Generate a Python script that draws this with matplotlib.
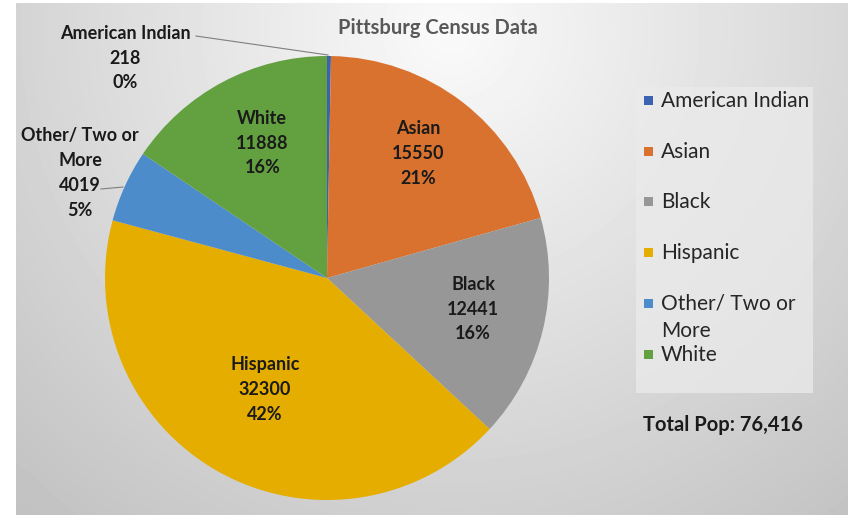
import numpy as np
import matplotlib.pyplot as plt
from matplotlib.patches import Rectangle

plt.rcParams["font.family"] = ["Lato", "DejaVu Sans"]

# data
groups = ["American Indian", "Asian", "Black", "Hispanic", "Other/ Two or\nMore", "White"]
population = [218, 15550, 12441, 32300, 4019, 11888]
pct_labels = ["0%", "21%", "16%", "42%", "5%", "16%"]
colors = ["#3A63B2", "#D9722E", "#979797", "#E4AD00", "#4C8CCB", "#63A140"]
total_label = "Total Pop: 76,416"
title = "Pittsburg Census Data"

W, H = 848, 515
fig = plt.figure(figsize=(W / 100, H / 100), dpi=100)
fig.patch.set_facecolor("white")
ax = fig.add_axes([0, 0, 1, 1])


def py(y):
    # image pixel row -> axes y
    return H - y


# background radial gradient
xx, yy = np.meshgrid(np.arange(16, W), np.arange(3, H))
d = np.hypot(xx - 450, yy - 30)
shade = np.clip(250 - 0.088 * d, 185, 250) / 255.0
ax.imshow(shade, cmap="gray", vmin=0, vmax=1, extent=(16, W, py(H), py(3)),
          origin="upper", zorder=0, interpolation="bilinear")

cx, cy, R = 327, py(278), 222
wedges, _ = ax.pie(population, colors=colors, startangle=90, counterclock=False,
                   center=(cx, cy), radius=R, wedgeprops=dict(linewidth=0))
for w in wedges:
    w.set_zorder(2)

ax.set_xlim(0, W)
ax.set_ylim(0, H)
ax.set_aspect("equal")
ax.axis("off")

lbl_kw = dict(ha="center", va="center", fontsize=13, fontweight="bold",
              color="#1a1a1a", linespacing=1.55, zorder=4)

# labels inside slices (polar position as fraction of radius)
inside = {1: (54.6, 0.71), 2: (-10.5, 0.67), 3: (-120, 0.56), 5: (115, 0.69)}
for i, (ang, r) in inside.items():
    a = np.deg2rad(ang)
    ax.text(cx + r * R * np.cos(a), cy + r * R * np.sin(a) - 4,
            f"{groups[i]}\n{population[i]}\n{pct_labels[i]}", **lbl_kw)

# outside labels with leader lines
ax.text(125, py(58), f"{groups[0]}\n{population[0]}\n{pct_labels[0]}", **lbl_kw)
ax.plot([196, 328], [py(36), py(55)], color="#7f7f7f", lw=0.8, zorder=3)
ax.text(80, py(173), f"{groups[4]}\n{population[4]}\n{pct_labels[4]}", **lbl_kw)
ax.plot([101, 123], [py(189), py(187)], color="#7f7f7f", lw=0.8, zorder=3)

ax.text(438, py(28), title, ha="center", va="center", fontsize=14.5,
        fontweight="bold", color="#595959", zorder=4)

# legend
ax.add_patch(Rectangle((636, py(393)), 177, 306, facecolor="#ebebeb",
                       edgecolor="none", alpha=0.75, zorder=1))
leg_y = [100, 151, 201, 252, 303, 354]
for g, c, y in zip(groups, colors, leg_y):
    ax.add_patch(Rectangle((644, py(y) - 5), 9, 9, facecolor=c,
                           edgecolor="none", zorder=4))
    ax.text(661, py(y) + 9, g, ha="left", va="top", fontsize=15,
            color="#262626", linespacing=1.45, zorder=4)

ax.text(723, py(425), total_label, ha="center", va="center", fontsize=14.5,
        fontweight="bold", color="#1a1a1a", zorder=4)

fig.savefig("out.png", dpi=100, facecolor="white")
